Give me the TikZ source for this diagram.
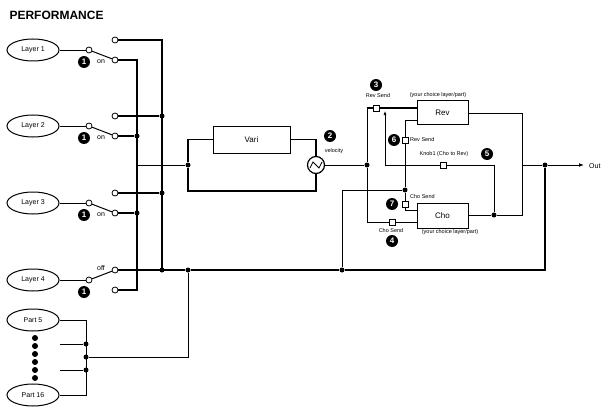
\documentclass[tikz,border=0pt]{standalone}
\usepackage{fontspec}
\setmainfont{Liberation Sans}
\usetikzlibrary{shapes.geometric,arrows.meta}
\begin{document}
\begin{tikzpicture}[x=1pt,y=-1pt,
  bus/.style={line width=1.6pt},
  med/.style={line width=1pt},
  thin/.style={line width=0.6pt},
  src/.style={ellipse,draw,line width=1pt,minimum width=52pt,minimum height=22pt,inner sep=0pt,font=\fontsize{7}{8}\selectfont},
  box/.style={rectangle,draw,line width=1pt,font=\fontsize{8}{9}\selectfont},
  term/.style={circle,draw,fill=white,line width=0.8pt,minimum size=6pt,inner sep=0pt},
  dot/.style={circle,fill=black,minimum size=5pt,inner sep=0pt},
  badge/.style={circle,fill=black,text=white,minimum size=12pt,inner sep=0pt,font=\bfseries\fontsize{8}{8}\selectfont},
  sq/.style={rectangle,draw,fill=white,line width=0.8pt,minimum size=6pt,inner sep=0pt},
  lbl/.style={font=\fontsize{6.5}{7}\selectfont,inner sep=1pt},
  tiny/.style={font=\fontsize{5.5}{6}\selectfont,inner sep=1pt}]
\useasboundingbox (0,0) rectangle (604,409);
\node[anchor=west,font=\bfseries\fontsize{12}{12}\selectfont] (title) at (6,15) {PERFORMANCE};
% layers and switches
\foreach \i/\y in {1/50,2/126,3/203,4/280}{
  \node[src] (L\i) at (33,\y) {Layer \i};
  \node[term] (p\i) at (89,\y) {};
  \node[term] (a\i) at (115,\y-10) {};
  \node[term] (b\i) at (115,\y+10) {};
  \draw[thin] (L\i) -- (p\i);
  \node[badge] (n\i) at (84,\y+12) {1};
}
\foreach \i/\y in {1/50,2/126,3/203}{
  \draw[med] (p\i) -- (b\i);
  \node[lbl,font=\fontsize{7}{8}\selectfont] (on\i) at (101,\y+12) {on};
}
\draw[med] (p4) -- (a4);
\node[lbl,font=\fontsize{7}{8}\selectfont] (off) at (101,268) {off};
% buses
\coordinate (A1) at (137,60);
\coordinate (A4) at (137,290);
\coordinate (B1) at (162,40);
\coordinate (B4) at (162,270);
\node[dot] (dA2) at (137,136) {};
\node[dot] (dA3) at (137,213) {};
\node[dot] (dB2) at (162,116) {};
\node[dot] (dB3) at (162,193) {};
\node[dot] (dB4) at (162,270) {};
\draw[bus] (b1) -- (A1) -- (A4) -- (b4);
\draw[bus] (a1) -- (B1) -- (B4);
\draw[bus] (a2) -- (dB2); \draw[bus] (b2) -- (dA2);
\draw[bus] (a3) -- (dB3); \draw[bus] (b3) -- (dA3);
% main bottom line
\node[dot] (d188) at (188,270) {};
\node[dot] (d342) at (342,270) {};
\node[dot] (dOut) at (545,165) {};
\coordinate (C545) at (545,270);
\draw[bus] (a4) -- (d188) -- (d342) -- (C545) -- (dOut);
% Vari loop
\coordinate (Ain) at (137,165);
\node[dot] (dV) at (188,165) {};
\draw[thin] (Ain) -- (dV);
\node[box,minimum width=77pt,minimum height=27pt] (vari) at (251.5,139.5) {Vari};
\node[circle,draw,line width=1.2pt,minimum size=17pt,inner sep=0pt] (vel) at (316,165) {};
\draw[line width=0.8pt] (310,168) -- (313,162) -- (319,168) -- (322,162);
\draw[bus] (dV) |- (vari.west);
\draw[bus] (vari.east) -| (vel.north);
\draw[bus] (dV) |- (316,191) -- (vel.south);
\node[badge] (n2) at (330,136) {2};
\node[tiny] (velt) at (334,151) {velocity};
% effects
\node[dot] (dE) at (367,165) {};
\draw[med] (vel.east) -- (dE);
\node[box,minimum width=51pt,minimum height=23pt] (rev) at (442.5,112.5) {Rev};
\node[box,minimum width=51pt,minimum height=25pt] (cho) at (442.5,215.5) {Cho};
\node[sq] (s3) at (376,108) {};
\node[sq] (s4) at (392,222) {};
\node[sq] (s6) at (405,140) {};
\node[sq] (s7) at (405,204) {};
\node[sq] (s5) at (443,165) {};
\node[dot] (dS) at (405,190) {};
\node[dot] (dC) at (494,215) {};
\coordinate (E1) at (367,108);
\coordinate (E2) at (367,222);
\draw[med] (dE) -- (E1) -- (s3) -- (s3 -| rev.west);
\draw[med] (dE) -- (E2) -- (s4) -- (s4 -| cho.west);
\draw[med] (d342) |- (dS);
\draw[med] (dS) -- (s6) -- (405,120) -- (rev.west |- 0,120);
\draw[med] (dS) -- (s7) -- (405,210) -- (cho.west |- 0,210);
\draw[med] (cho.east |- dC) -- (dC);
\coordinate (R1) at (522,113);
\coordinate (R2) at (522,215);
\coordinate (R3) at (522,165);
\draw[med] (rev.east |- R1) -- (R1) -- (R2) -- (dC);
\draw[med] (R3) -- (dOut);
\coordinate (OutEnd) at (584,165);
\draw[med,-{Latex[length=5pt]}] (dOut) -- (OutEnd);
\node[lbl,font=\fontsize{7}{8}\selectfont,anchor=west] (out) at (588,166) {Out};
\draw[thin,-{Latex[length=4pt]}] (dC) -- (494,165) -- (s5) -- (385,165) -- (385,111);
% badges and labels
\node[badge] (n3) at (376,85) {3};
\node[tiny] (t3) at (378,96) {Rev Send};
\node[tiny] (t3b) at (438,95) {(your choice layer/part)};
\node[badge] (n4) at (392,241) {4};
\node[tiny] (t4) at (391,231) {Cho Send};
\node[tiny] (t4b) at (450,232) {(your choice layer/part)};
\node[badge] (n6) at (394,140) {6};
\node[tiny,anchor=west] (t6) at (409,140) {Rev Send};
\node[badge] (n7) at (392,204) {7};
\node[tiny,anchor=west] (t7) at (409,197) {Cho Send};
\node[badge] (n5) at (487,154) {5};
\node[tiny] (t5) at (444,154) {Knob1 (Cho to Rev)};
% parts
\node[src] (P5) at (33,320) {Part 5};
\node[src] (P16) at (33,395) {Part 16};
\foreach \k in {0,...,5} \node[dot,minimum size=6pt] (pd\k) at (35,338+8*\k) {};
\coordinate (Q1) at (86,320);
\coordinate (Q2) at (86,395);
\node[dot] (q1) at (86,344) {};
\node[dot] (q2) at (86,357) {};
\node[dot] (q3) at (86,370) {};
\draw[med] (P5) -- (Q1) -- (Q2) -- (P16);
\draw[thin] (60,344) -- (q1);
\draw[thin] (60,370) -- (q3);
\draw[med] (q2) -| (d188);
\end{tikzpicture}
\end{document}
